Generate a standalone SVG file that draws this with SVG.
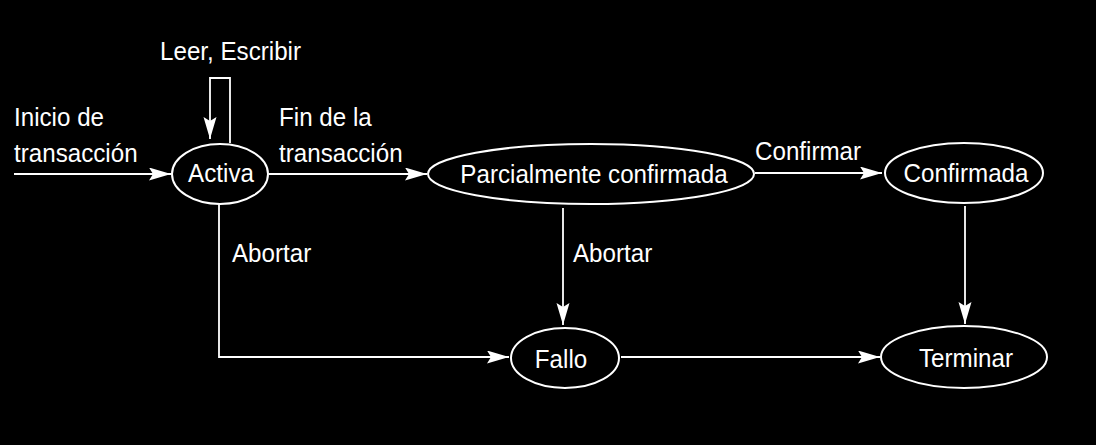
<svg xmlns="http://www.w3.org/2000/svg" width="1096" height="445" viewBox="0 0 1096 445">
<defs>
<marker id="arr" markerUnits="userSpaceOnUse" markerWidth="24" markerHeight="14" refX="22" refY="6.5" orient="auto">
<path d="M0,0 L22,6.5 L0,13 L4,6.5 Z" fill="#ffffff"/>
</marker>
<style>
.t{font-family:"Liberation Sans",Arial,sans-serif;font-size:26px;fill:#ffffff}
.m{text-anchor:middle}
.n{fill:#000000;stroke:#ffffff;stroke-width:2}
.c{fill:none;stroke:#ffffff;stroke-width:1.8}
</style>
</defs>
<rect x="0" y="0" width="1096" height="445" fill="#000000"/>
<g id="connectors">
<path class="c" d="M14,174 L171,174" marker-end="url(#arr)"/>
<path class="c" d="M230,143 L230,78 L210,78 L210,139" marker-end="url(#arr)"/>
<path class="c" d="M269,174 L427,174" marker-end="url(#arr)"/>
<path class="c" d="M755,173 L882,173" marker-end="url(#arr)"/>
<path class="c" d="M219,204 L219,357 L509,357" marker-end="url(#arr)"/>
<path class="c" d="M563,208 L563,325" marker-end="url(#arr)"/>
<path class="c" d="M965,206 L965,324" marker-end="url(#arr)"/>
<path class="c" d="M621,357 L880,357" marker-end="url(#arr)"/>
<text class="t" transform="translate(160,60) scale(0.93,1)">Leer, Escribir</text>
<text class="t" transform="translate(14,126) scale(0.93,1)">Inicio de</text>
<text class="t" transform="translate(14,162) scale(0.93,1)">transacción</text>
<text class="t" transform="translate(279,126) scale(0.93,1)">Fin de la</text>
<text class="t" transform="translate(279,162) scale(0.93,1)">transacción</text>
<text class="t" transform="translate(755,160) scale(0.93,1)">Confirmar</text>
<text class="t" transform="translate(232,262) scale(0.93,1)">Abortar</text>
<text class="t" transform="translate(573,262) scale(0.93,1)">Abortar</text>
</g>
<g id="activa">
<ellipse class="n" cx="220" cy="174" rx="48" ry="30"/>
<text class="t m" transform="translate(221,182) scale(0.93,1)">Activa</text>
</g>
<g id="parcialmente">
<ellipse class="n" cx="591" cy="174" rx="163" ry="30"/>
<text class="t m" transform="translate(594,183) scale(0.93,1)">Parcialmente confirmada</text>
</g>
<g id="confirmada">
<ellipse class="n" cx="964" cy="173" rx="79" ry="30"/>
<text class="t m" transform="translate(966,182) scale(0.93,1)">Confirmada</text>
</g>
<g id="fallo">
<ellipse class="n" cx="565" cy="358" rx="54" ry="30"/>
<text class="t m" transform="translate(561,368) scale(0.93,1)">Fallo</text>
</g>
<g id="terminar">
<ellipse class="n" cx="964" cy="357" rx="83" ry="31"/>
<text class="t m" transform="translate(966,367) scale(0.93,1)">Terminar</text>
</g>
</svg>
